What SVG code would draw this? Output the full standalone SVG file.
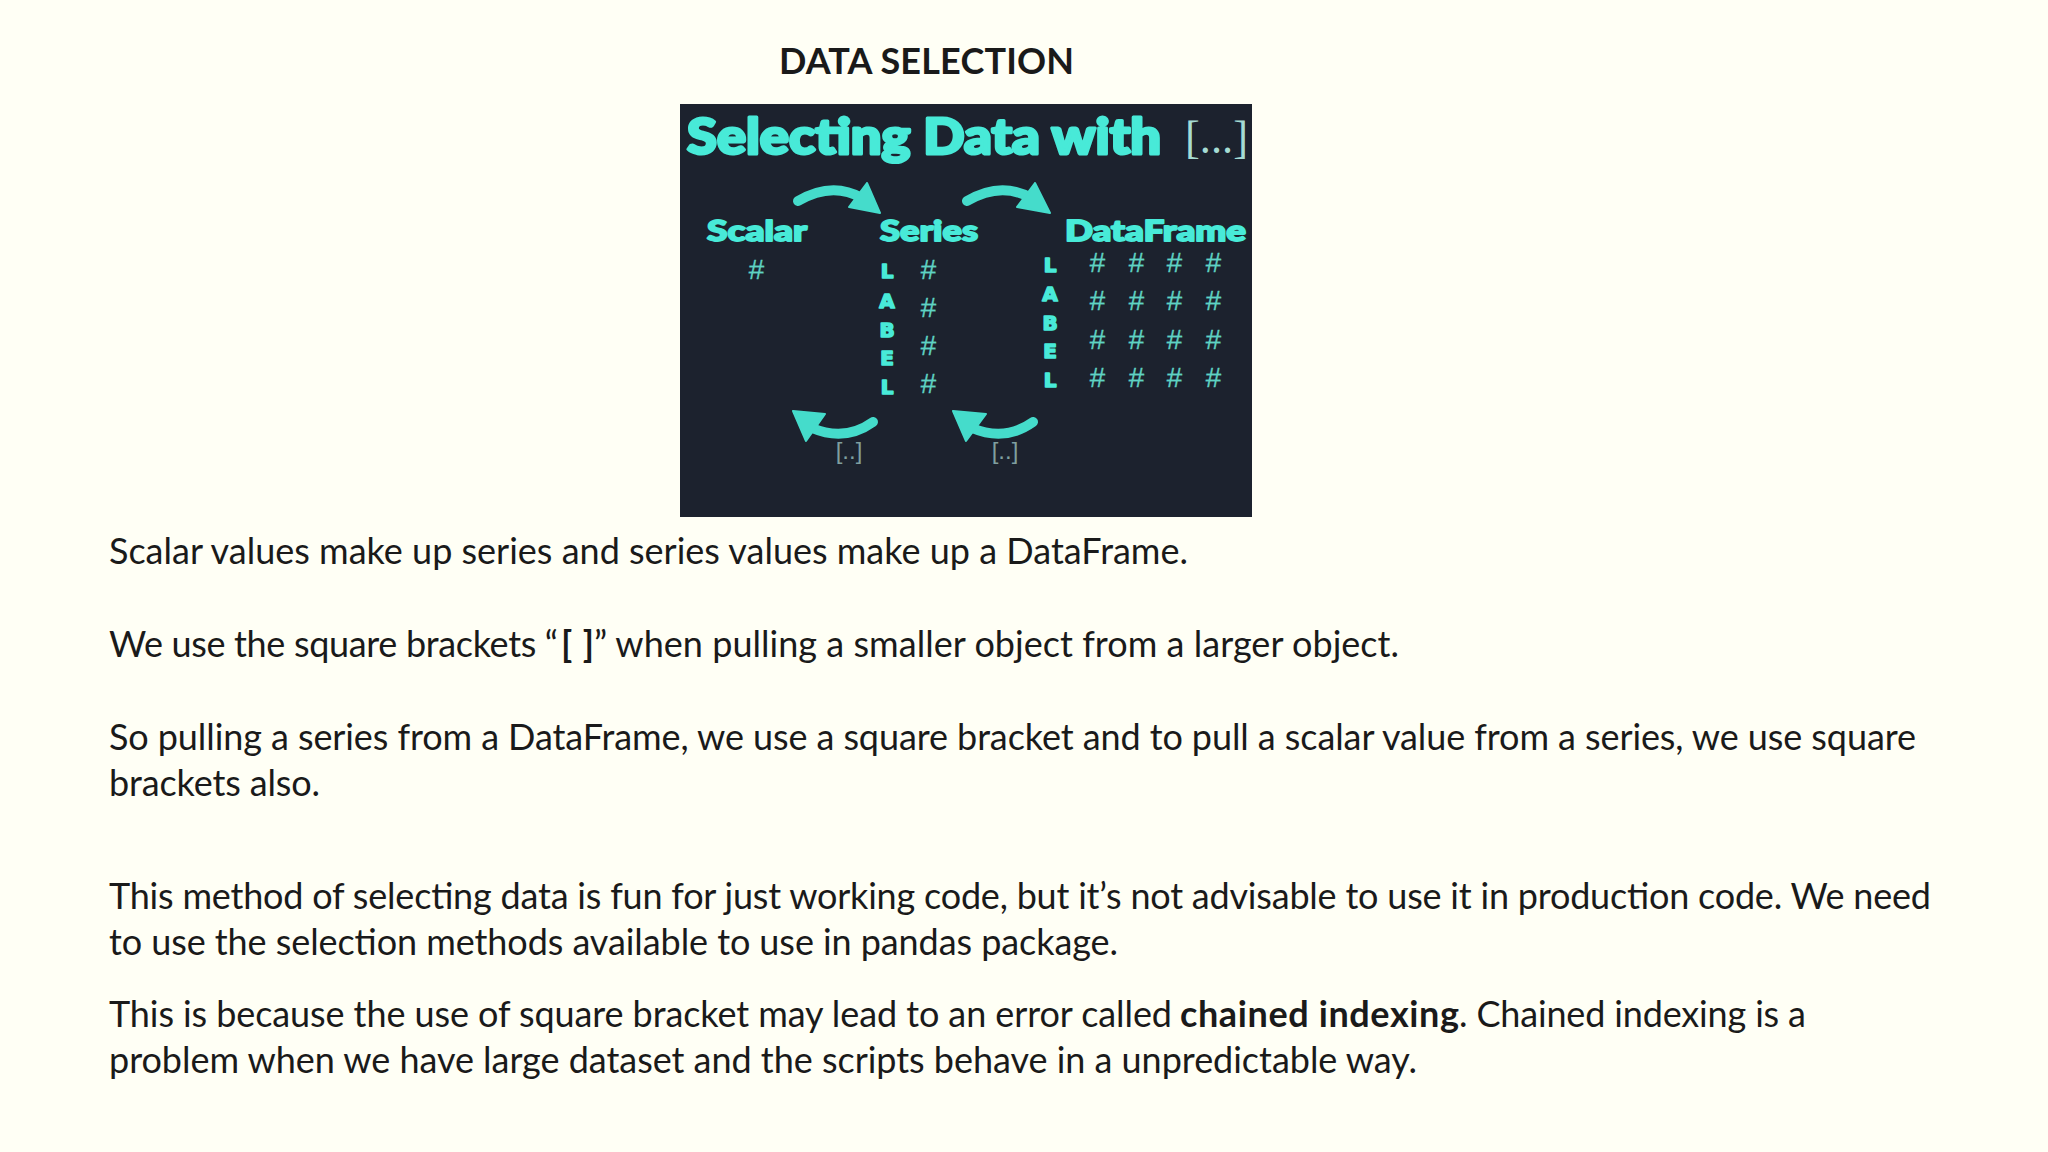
<svg xmlns="http://www.w3.org/2000/svg" width="2048" height="1152" viewBox="0 0 2048 1152">
<style>
.t{font-family:Lato,"Open Sans",sans-serif;font-size:36px;fill:#1a1a1a}
.b{font-weight:700}
.h{font-family:Lato,"DejaVu Sans",sans-serif;font-weight:900;fill:#48ead8;stroke:#48ead8;stroke-linejoin:round}
.n{font-family:"Liberation Sans",sans-serif;font-style:italic;font-size:28px;fill:#5fd2c3;stroke:#5fd2c3;stroke-width:.3;text-anchor:middle}
.l{font-family:"DejaVu Sans",sans-serif;font-weight:700;font-size:20px;fill:#48ead8;stroke:#48ead8;stroke-width:1.6;stroke-linejoin:round;text-anchor:middle}
.s{font-family:"Liberation Sans",sans-serif;font-size:24px;fill:#7f9f9f;text-anchor:middle}
.ar{fill:none;stroke:#45dccb;stroke-width:10;stroke-linecap:round}
.hd{fill:#45dccb;stroke:#45dccb;stroke-width:2;stroke-linejoin:round}
</style>
<rect width="2048" height="1152" fill="#fffff5"/>
<text class="t b" x="779" y="74" textLength="295" lengthAdjust="spacing">DATA SELECTION</text>
<g id="picture">
<rect x="680" y="104" width="572" height="413" fill="#1c222e"/>
<text class="h" x="687" y="154" font-size="50" stroke-width="3" textLength="474" lengthAdjust="spacingAndGlyphs">Selecting Data with</text>
<text x="1185" y="153" font-family="Liberation Serif,serif" font-size="46" fill="#a5dcd4" textLength="63" lengthAdjust="spacingAndGlyphs">[...]</text>
<text class="h" x="707" y="241" font-size="29" stroke-width="1.8" textLength="100" lengthAdjust="spacingAndGlyphs">Scalar</text>
<text class="h" x="880" y="241" font-size="29" stroke-width="1.8" textLength="98" lengthAdjust="spacingAndGlyphs">Series</text>
<text class="h" x="1065" y="241" font-size="29" stroke-width="1.8" textLength="181" lengthAdjust="spacingAndGlyphs">DataFrame</text>
<g id="arrows">
<path class="ar" d="M798 201Q832 181 862 198"/><path class="hd" d="M880 213L867 183L849 207Z"/>
<path class="ar" d="M967 201Q1001 181 1031 198"/><path class="hd" d="M1050 213L1035 183L1017 207Z"/>
<path class="ar" d="M873 422Q845 442 812 428"/><path class="hd" d="M793 411L825 414L806 441Z"/>
<path class="ar" d="M1033 422Q1005 442 972 428"/><path class="hd" d="M953 411L986 414L966 441Z"/>
</g>
<text class="n" x="756" y="279">#</text>
<text class="n" x="928" y="279">#</text><text class="n" x="928" y="317">#</text><text class="n" x="928" y="355">#</text><text class="n" x="928" y="393">#</text>
<text class="n" x="1097" y="272">#</text><text class="n" x="1136" y="272">#</text><text class="n" x="1174" y="272">#</text><text class="n" x="1213" y="272">#</text>
<text class="n" x="1097" y="310">#</text><text class="n" x="1136" y="310">#</text><text class="n" x="1174" y="310">#</text><text class="n" x="1213" y="310">#</text>
<text class="n" x="1097" y="349">#</text><text class="n" x="1136" y="349">#</text><text class="n" x="1174" y="349">#</text><text class="n" x="1213" y="349">#</text>
<text class="n" x="1097" y="387">#</text><text class="n" x="1136" y="387">#</text><text class="n" x="1174" y="387">#</text><text class="n" x="1213" y="387">#</text>
<text class="l" x="887" y="278">L</text><text class="l" x="887" y="308">A</text><text class="l" x="887" y="337">B</text><text class="l" x="887" y="365">E</text><text class="l" x="887" y="394">L</text>
<text class="l" x="1050" y="272">L</text><text class="l" x="1050" y="301">A</text><text class="l" x="1050" y="330">B</text><text class="l" x="1050" y="358">E</text><text class="l" x="1050" y="387">L</text>
<text class="s" x="849" y="459">[..]</text><text class="s" x="1005" y="459">[..]</text>
</g>
<g id="body">
<text class="t" x="109" y="564" textLength="1079">Scalar values make up series and series values make up a DataFrame.</text>
<text class="t" x="109" y="657" textLength="449">We use the square brackets “</text>
<text class="t b" x="561" y="657" textLength="33">[ ]</text>
<text class="t" x="594" y="657" textLength="805">” when pulling a smaller object from a larger object.</text>
<text class="t" x="109" y="750" textLength="1807">So pulling a series from a DataFrame, we use a square bracket and to pull a scalar value from a series, we use square</text>
<text class="t" x="109" y="796" textLength="211">brackets also.</text>
<text class="t" x="109" y="909" textLength="1822">This method of selecting data is fun for just working code, but it’s not advisable to use it in production code. We need</text>
<text class="t" x="109" y="955" textLength="1009">to use the selection methods available to use in pandas package.</text>
<text class="t" x="109" y="1027" textLength="1063">This is because the use of square bracket may lead to an error called</text>
<text class="t b" x="1180" y="1027" textLength="279">chained indexing</text>
<text class="t" x="1459" y="1027" textLength="347">. Chained indexing is a</text>
<text class="t" x="109" y="1073" textLength="1308">problem when we have large dataset and the scripts behave in a unpredictable way.</text>
</g>
</svg>
